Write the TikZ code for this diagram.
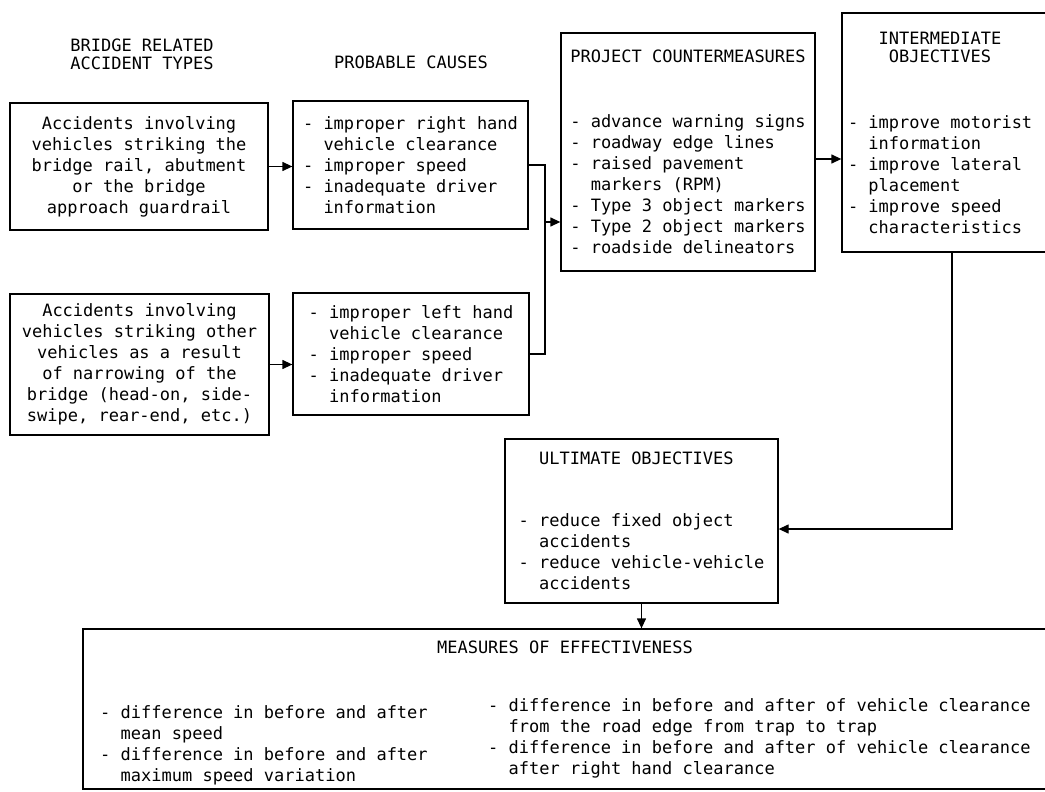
\documentclass[tikz,border=0pt]{standalone}
\usepackage{fontspec}
\setmonofont{DejaVu Sans Mono}
\usepackage{tikz}
\usetikzlibrary{positioning,calc,arrows.meta}
\newcommand{\typefont}{\ttfamily\fontsize{17}{21}\selectfont}
\newcommand{\cont}{\hphantom{xx}}

\begin{document}
\begin{tikzpicture}[x=1pt, y=-1pt,
    box/.style={draw, line width=1.3pt, inner sep=6pt, font=\typefont},
    heading/.style={font=\typefont, align=center},
    wire/.style={line width=1.3pt},
    link/.style={line width=1.3pt, -{Triangle[length=10pt,width=9pt]}}]
    \useasboundingbox[fill=white] (0,0) rectangle (1045,792);
    \clip (0,0) rectangle (1045,792);

    % column titles
    \node[heading] (acctitle) at (142,54) {BRIDGE RELATED\\[-3pt]ACCIDENT TYPES};
    \node[heading] (causetitle) at (411,62) {PROBABLE CAUSES};

    % accident types
    \node[box, align=center, minimum width=258pt, minimum height=127pt] (acc1) at (139,166.5)
        {Accidents involving\\vehicles striking the\\bridge rail, abutment\\or the bridge\\approach guardrail};
    \node[box, align=center, minimum width=259pt, minimum height=141pt] (acc2) at (139.5,364.5)
        {Accidents involving\\vehicles striking other\\vehicles as a result\\of narrowing of the\\bridge (head-on, side-\\swipe, rear-end, etc.)};

    % probable causes
    \node[box, align=left, minimum width=235pt, minimum height=128pt] (cause1) at (410.5,165)
        {- improper right hand\\\cont vehicle clearance\\- improper speed\\- inadequate driver\\\cont information};
    \node[box, align=left, minimum width=236pt, minimum height=122pt] (cause2) at (411,354)
        {- improper left hand\\\cont vehicle clearance\\- improper speed\\- inadequate driver\\\cont information};

    % countermeasures and objectives
    \node[box, align=left, minimum width=254pt, minimum height=238pt] (counter) at (688,152)
        {PROJECT COUNTERMEASURES\\[44pt]- advance warning signs\\- roadway edge lines\\- raised pavement\\\cont markers (RPM)\\- Type 3 object markers\\- Type 2 object markers\\- roadside delineators};
    \node[box, align=left, minimum width=220pt, minimum height=239pt] (interobj) at (952,132.5)
        {\makebox[208pt][l]{\makebox[184pt]{INTERMEDIATE}}\\[-3pt]\makebox[184pt]{OBJECTIVES}\\[45pt]- improve motorist\\\cont information\\- improve lateral\\\cont placement\\- improve speed\\\cont characteristics};
    \node[box, align=left, minimum width=273pt, minimum height=164pt] (ultobj) at (641.5,521)
        {\cont ULTIMATE OBJECTIVES\\[41pt]- reduce fixed object\\\cont accidents\\- reduce vehicle-vehicle\\\cont accidents};

    % measures of effectiveness
    \node[box, minimum width=977pt, minimum height=160pt] (moe) at (571.5,709) {};
    \node[font=\typefont, anchor=base] (moetitle) at (565,653) {MEASURES OF EFFECTIVENESS};
    \node[font=\typefont, align=left, inner sep=0pt, anchor=base west] (moeleft) at (100,781)
        {- difference in before and after\\\cont mean speed\\- difference in before and after\\\cont maximum speed variation};
    \node[font=\typefont, align=left, inner sep=0pt, anchor=base west] (moeright) at (488,774)
        {- difference in before and after of vehicle clearance\\\cont from the road edge from trap to trap\\- difference in before and after of vehicle clearance\\\cont after right hand clearance};

    % connectors
    \draw[link] (acc1.east) -- (acc1.east -| cause1.west);
    \draw[link] (acc2.east) -- (acc2.east -| cause2.west);

    % both causes join before the countermeasures
    \coordinate (join) at (545,222);
    \draw[wire] (cause1.east) -| (join) |- (cause2.east);
    \draw[link] (join) -- (join -| counter.west);

    \draw[link] ($(counter.east)+(0,7)$) -- ($(counter.east -| interobj.west)+(0,7)$);
    \draw[link] (interobj.south) |- ($(ultobj.east)+(0,8)$);
    \draw[link] (ultobj.south) -- (ultobj.south |- moe.north);
\end{tikzpicture}
\end{document}
